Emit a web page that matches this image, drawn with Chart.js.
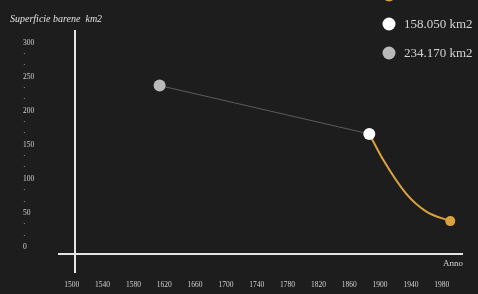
<!DOCTYPE html>
<html><head><meta charset="utf-8">
<script src="https://cdn.jsdelivr.net/npm/chart.js@4"></script>
<style>html,body{margin:0;padding:0;background:#1d1d1d;} canvas{display:block;}</style>
</head><body>
<canvas id="c" width="478" height="294"></canvas>
<script>
// ---- data ----
const grayYears = [1614, 1886];
const grayValues = [237, 166];
const orangeYears = [1886, 1904, 1934, 1960, 1991];
const orangeValues = [166, 128, 78, 52, 38];
const whiteYears = [1886];
const whiteValues = [166];
const xTickValues = [1500, 1540, 1580, 1620, 1660, 1700, 1740, 1780, 1820, 1860, 1900, 1940, 1980];
const yTickValues = [0, 16.67, 33.33, 50, 66.67, 83.33, 100, 116.67, 133.33, 150, 166.67, 183.33, 200, 216.67, 233.33, 250, 266.67, 283.33, 300];
const yTickLabels = ['0', '·', '·', '50', '·', '·', '100', '·', '·', '150', '·', '·', '200', '·', '·', '250', '·', '·', '300'];
const legendLabels = ['', '158.050 km2', '234.170 km2'];
const legendColors = ['#d9a23f', '#ffffff', '#b9b9b9'];
const titleText = 'Superficie barene  km2';
const xAxisTitle = 'Anno';

const FONT = "'Liberation Serif', 'DejaVu Serif', serif";
const toPts = (xs, ys) => xs.map((x, i) => ({x: x, y: ys[i]}));

const decor = {
  id: 'decor',
  beforeDatasetsDraw(chart) {
    const ctx = chart.ctx, a = chart.chartArea;
    ctx.save();
    ctx.strokeStyle = '#e4e4e4';
    ctx.lineWidth = 2;
    ctx.beginPath();
    ctx.moveTo(a.left + 17, a.top);
    ctx.lineTo(a.left + 17, a.bottom + 19);
    ctx.moveTo(a.left, a.bottom);
    ctx.lineTo(a.right, a.bottom);
    ctx.stroke();
    ctx.fillStyle = '#d4d4d4';
    ctx.font = '9px ' + FONT;
    ctx.textAlign = 'right';
    ctx.textBaseline = 'middle';
    ctx.fillText(xAxisTitle, a.right, a.bottom + 10);
    ctx.restore();
  },
  afterDraw(chart) {
    const ctx = chart.ctx;
    ctx.save();
    ctx.fillStyle = '#e0e0e0';
    ctx.font = 'italic 10px ' + FONT;
    ctx.textAlign = 'left';
    ctx.textBaseline = 'middle';
    ctx.fillText(titleText, 10, 19);
    ctx.font = '13px ' + FONT;
    legendLabels.forEach((t, i) => {
      const y = -5 + i * 29;
      ctx.fillStyle = legendColors[i];
      ctx.beginPath();
      ctx.arc(389, y, 6.5, 0, Math.PI * 2);
      ctx.fill();
      ctx.fillStyle = '#d4d4d4';
      ctx.fillText(t, 404, y + 1);
    });
    ctx.restore();
  }
};

new Chart(document.getElementById('c'), {
  type: 'line',
  data: {
    datasets: [
      {
        data: toPts(whiteYears, whiteValues),
        showLine: false,
        pointRadius: 6,
        pointBackgroundColor: '#ffffff',
        pointBorderColor: '#ffffff',
        pointBorderWidth: 0
      },
      {
        data: toPts(orangeYears, orangeValues),
        borderColor: '#d9a23f',
        borderWidth: 2,
        cubicInterpolationMode: 'monotone',
        pointRadius: [0, 0, 0, 0, 5],
        pointBackgroundColor: '#d9a23f',
        pointBorderWidth: 0
      },
      {
        data: toPts(grayYears, grayValues),
        borderColor: '#5c5c5c',
        borderWidth: 1,
        pointRadius: [6, 0],
        pointBackgroundColor: '#b9b9b9',
        pointBorderWidth: 0
      }
    ]
  },
  options: {
    responsive: false,
    animation: false,
    layout: {padding: {left: 23, right: 15, top: 30, bottom: 0}},
    plugins: {legend: {display: false}, tooltip: {enabled: false}},
    scales: {
      x: {
        type: 'linear',
        min: 1482.2,
        max: 2007.5,
        grid: {display: false, drawTicks: false},
        border: {display: false},
        afterBuildTicks: s => { s.ticks = xTickValues.map(v => ({value: v})); },
        afterFit: s => { s.height = 40; s.paddingLeft = 0; s.paddingRight = 0; },
        ticks: {
          color: '#d0d0d0',
          font: {family: FONT, size: 7.5},
          padding: 27,
          maxRotation: 0,
          autoSkip: false,
          callback: v => String(v)
        }
      },
      y: {
        type: 'linear',
        min: -10.3,
        max: 318.6,
        grid: {display: false, drawTicks: false},
        border: {display: false},
        afterBuildTicks: s => { s.ticks = yTickValues.map(v => ({value: v})); },
        afterFit: s => { s.width = 35; s.paddingTop = 0; s.paddingBottom = 0; },
        ticks: {
          color: '#d0d0d0',
          font: {family: FONT, size: 7.5},
          crossAlign: 'far',
          autoSkip: false,
          callback: (v, i) => yTickLabels[i]
        }
      }
    }
  },
  plugins: [decor]
});
</script>
</body></html>
